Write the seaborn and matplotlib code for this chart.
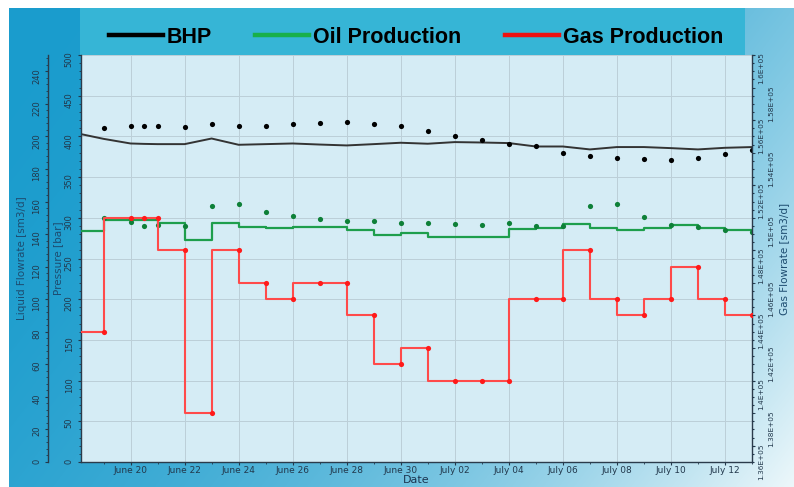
import numpy as np
import pandas as pd
import matplotlib
matplotlib.use("Agg")
import matplotlib.pyplot as plt
import matplotlib.dates as mdates
from matplotlib.ticker import MultipleLocator, FuncFormatter, NullFormatter
from matplotlib.lines import Line2D
from matplotlib.patches import Rectangle
from matplotlib.colors import to_rgb
import seaborn as sns

# ---------------- data ----------------
obs_dates = pd.to_datetime([
    "2023-06-19 00:00", "2023-06-20 00:00", "2023-06-20 12:00", "2023-06-21 00:00", "2023-06-22 00:00",
    "2023-06-23 00:00", "2023-06-24 00:00", "2023-06-25 00:00", "2023-06-26 00:00", "2023-06-27 00:00",
    "2023-06-28 00:00", "2023-06-29 00:00", "2023-06-30 00:00", "2023-07-01 00:00", "2023-07-02 00:00",
    "2023-07-03 00:00", "2023-07-04 00:00", "2023-07-05 00:00", "2023-07-06 00:00", "2023-07-07 00:00",
    "2023-07-08 00:00", "2023-07-09 00:00", "2023-07-10 00:00", "2023-07-11 00:00", "2023-07-12 00:00",
    "2023-07-13 00:00"], format="ISO8601")
sim_dates = pd.to_datetime(["2023-06-18 04:00"], format="ISO8601").append(obs_dates)

# observed (dots)
bhp_obs = [410.9, 413.0, 412.2, 412.2, 411.8, 415.0, 413.0, 413.0, 415.8, 416.7,
           417.9, 415.0, 412.2, 406.9, 400.4, 395.8, 391.0, 388.1, 379.9, 375.8,
           372.9, 371.7, 370.9, 373.8, 377.8, 383.2]
oil_obs = [149.7, 147.2, 145.2, 145.6, 145.0, 157.0, 158.7, 153.4, 151.3, 149.1,
           148.3, 147.9, 147.0, 146.9, 146.0, 145.8, 147.0, 145.2, 144.8, 157.3,
           158.5, 150.7, 145.8, 144.2, 142.2, 141.5]
gas_obs = [143000, 150000, 150000, 150000, 148000, 138000, 148000, 146000, 145000, 146000,
           146000, 144000, 141000, 142000, 140000, 140000, 140000, 145000, 145000, 148000,
           145000, 144000, 145000, 147000, 145000, 144000]

# simulated (lines)
bhp_sim = [402.8, 397.0, 391.3, 390.8, 390.5, 390.5, 397.4, 389.7, 390.5, 391.3, 390.0,
           388.9, 390.5, 392.2, 391.0, 393.0, 392.5, 391.8, 387.6, 387.6, 384.0,
           386.9, 386.9, 385.6, 384.0, 386.0, 386.9]
oil_sim = [141.7, 141.7, 148.7, 148.7, 148.7, 146.6, 136.5, 146.6, 144.6, 143.6, 144.6,
           144.6, 142.6, 139.6, 140.6, 138.5, 138.5, 138.5, 143.2, 143.6, 146.4,
           143.6, 142.6, 143.6, 145.6, 144.0, 142.6]
gas_sim = [143000] + gas_obs

legend_labels = ["BHP", "Oil Production", "Gas Production"]

# ---------------- figure ----------------
W, H = 794, 487
fig = plt.figure(figsize=(W / 100, H / 100), dpi=100)

# background gradient
bg = fig.add_axes([0, 0, 1, 1], zorder=-10)
yy, xx = np.mgrid[0:H, 0:W]
s = np.clip(0.68 * xx / W + 0.32 * yy / H, 0, 1) ** 2.2
c0 = np.array(to_rgb("#1a9ccd"))
c1 = np.array(to_rgb("#eef8fb"))
img = c0 + (c1 - c0) * s[..., None]
bg.imshow(img, extent=[0, W, H, 0], aspect="auto")
bg.add_patch(Rectangle((80, 8), 665, 47, color="#36b5d6", lw=0))
bg.add_patch(Rectangle((0, 0), W, 8, color="white", lw=0))
bg.add_patch(Rectangle((0, 0), 9, H, color="white", lw=0))
bg.set_xlim(0, W)
bg.set_ylim(H, 0)
bg.axis("off")

ax = fig.add_axes([81 / W, 25 / H, 671 / W, 407 / H])
ax.set_facecolor("#d5ecf5")
ax_liq = ax.twinx()
ax_gas = ax.twinx()
ax_gt = ax.twinx()   # fine tick marks of the gas axis

# BHP on pressure axis
sns.lineplot(x=sim_dates, y=bhp_sim, ax=ax, color="#333333", lw=1.4, legend=False)
sns.scatterplot(x=obs_dates, y=bhp_obs, ax=ax, color="black", s=14, linewidth=0, zorder=5, legend=False)

# oil on liquid axis
sns.lineplot(x=sim_dates, y=oil_sim, ax=ax_liq, color="#1e9e4c", lw=1.6,
             drawstyle="steps-pre", legend=False)
sns.scatterplot(x=obs_dates, y=oil_obs, ax=ax_liq, color="#0e8038", s=14, linewidth=0, zorder=5, legend=False)

# gas on gas axis
sns.lineplot(x=sim_dates, y=gas_sim, ax=ax_gas, color="#ff4a4a", lw=1.5,
             drawstyle="steps-pre", legend=False)
sns.scatterplot(x=obs_dates, y=gas_obs, ax=ax_gas, color="#ff1a1a", s=14, linewidth=0, zorder=5, legend=False)

# limits
ax.set_xlim(pd.Timestamp("2023-06-18 04:00"), pd.Timestamp("2023-07-13 00:00"))
ax.set_ylim(0, 500)
ax_liq.set_ylim(0, 250)
ax_gas.set_ylim(135000, 160000)
ax_gt.set_ylim(135000, 160000)

tick_col = "#22384c"
spine_col = "#2b3b4b"
label_col = "#1d4c70"

# x axis
ax.xaxis.set_major_locator(mdates.DayLocator(bymonthday=range(2, 32, 2)))
ax.xaxis.set_minor_locator(mdates.DayLocator())
ax.xaxis.set_major_formatter(mdates.DateFormatter("%B %d"))
ax.tick_params(axis="x", which="major", labelsize=6.5, colors=tick_col, length=2.2, pad=1)
ax.tick_params(axis="x", which="minor", length=1.5, colors=tick_col)
ax.set_xlabel("Date", fontsize=8, color="#1c3550")
ax.xaxis.set_label_coords(0.5, -0.033)

# pressure axis
ax.yaxis.set_major_locator(MultipleLocator(50))
ax.yaxis.set_minor_locator(MultipleLocator(10))
ax.tick_params(axis="y", which="major", labelsize=6, colors=tick_col, length=2.2,
               labelrotation=90, pad=3)
ax.tick_params(axis="y", which="minor", length=1.4, colors=tick_col)
ax.set_ylabel("Pressure [bar]", fontsize=7.5, color=label_col)
ax.yaxis.set_label_coords(-0.026, 0.5)

# liquid axis (outer left)
ax_liq.yaxis.tick_left()
ax_liq.yaxis.set_label_position("left")
ax_liq.spines["left"].set_position(("outward", 23.8))
ax_liq.spines["left"].set_visible(True)
ax_liq.yaxis.set_major_locator(MultipleLocator(20))
ax_liq.yaxis.set_minor_locator(MultipleLocator(4))
ax_liq.tick_params(axis="y", which="major", labelsize=6, colors=tick_col, length=2.2,
                   labelrotation=90, pad=2.5)
ax_liq.tick_params(axis="y", which="minor", length=1.4, colors=tick_col)
ax_liq.set_ylabel("Liquid Flowrate [sm3/d]", fontsize=7.5, color=label_col)
ax_liq.yaxis.set_label_coords(-0.080, 0.5)

# gas axis (right), labels staggered on two rows
def gas_fmt(v, pos):
    return f"{v / 1e5:g}E+05"

ax_gas.yaxis.set_major_locator(MultipleLocator(4000))
ax_gas.yaxis.set_minor_locator(MultipleLocator(4000, offset=2000))
ax_gas.yaxis.set_major_formatter(FuncFormatter(gas_fmt))
ax_gas.yaxis.set_minor_formatter(FuncFormatter(gas_fmt))
ax_gas.tick_params(axis="y", which="major", labelsize=5.3, colors=tick_col, length=2.2,
                   labelrotation=90, pad=2.6)
ax_gas.tick_params(axis="y", which="minor", labelsize=5.3, colors=tick_col, length=2.2,
                   labelrotation=90, pad=9.8)
ax_gas.set_ylabel("Gas Flowrate [sm3/d]", fontsize=7.5, color=label_col)
ax_gas.yaxis.set_label_coords(1.041, 0.5)

ax_gt.yaxis.set_major_locator(MultipleLocator(500))
ax_gt.yaxis.set_major_formatter(NullFormatter())
ax_gt.tick_params(axis="y", which="major", length=1.4, colors=tick_col)
for sp in ax_gt.spines.values():
    sp.set_visible(False)

# spines
for a in (ax, ax_liq, ax_gas):
    for side, sp in a.spines.items():
        sp.set_color(spine_col)
        sp.set_linewidth(1.0)
    a.spines["top"].set_visible(False)
ax.spines["right"].set_visible(False)
ax_liq.spines["right"].set_visible(False)
ax_liq.spines["bottom"].set_visible(False)
ax_gas.spines["left"].set_visible(False)
ax_gas.spines["bottom"].set_visible(False)

# grid
ax.set_axisbelow(True)
ax.grid(True, which="major", color="#bccfd8", lw=0.7)

# legend in the banner
handles = [Line2D([], [], color="#000000", lw=3.2),
           Line2D([], [], color="#18b04a", lw=3.2),
           Line2D([], [], color="#ee1111", lw=3.2)]
fig.legend(handles, legend_labels, loc="center", bbox_to_anchor=(0.524, 0.924),
           ncol=3, frameon=False, handlelength=2.5, handletextpad=0.2,
           columnspacing=2.0,
           prop=dict(family=["Liberation Sans", "DejaVu Sans"], weight="bold", size=15.5))

fig.savefig("out.png", dpi=100)
